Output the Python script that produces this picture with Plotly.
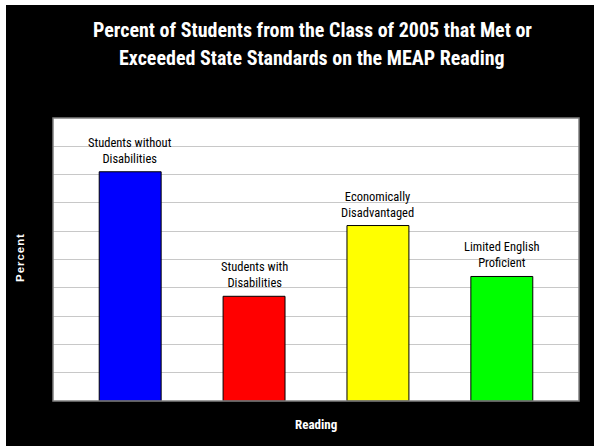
import plotly.graph_objects as go

categories = ["Students without Disabilities", "Students with Disabilities",
              "Economically Disadvantaged", "Limited English Proficient"]
bar_labels = ["Students without<br>Disabilities", "Students with<br>Disabilities",
              "Economically<br>Disadvantaged", "Limited English<br>Proficient"]
values = [81, 37, 62, 44]
colors = ["#0000ff", "#ff0000", "#ffff00", "#00ff00"]
y_ticks = list(range(0, 101, 10))
title_lines = ["Percent of Students from the Class of 2005 that Met or",
               "Exceeded State Standards on the MEAP Reading"]

NARROW = "Roboto Condensed, Liberation Sans Narrow, Arial Narrow, Liberation Sans, sans-serif"

fig = go.Figure()
fig.add_trace(go.Bar(
    x=categories, y=values, width=0.5,
    marker=dict(color=colors, line=dict(color="#000000", width=1)),
    hoverinfo="skip", showlegend=False,
))

for c, lab, v in zip(categories, bar_labels, values):
    fig.add_annotation(x=c, y=v, text=lab, showarrow=False, yanchor="bottom",
                       yshift=4, font=dict(family=NARROW, size=12.5, color="#000000"),
                       align="center")

W, H = 594, 446
L, R, T, B = 53, 15, 118, 45
pw, ph = W - L - R, H - T - B

def px_x(p):
    return (p - L) / pw

def px_y(p):
    return (H - B - p) / ph

# white strips at top and left edges
fig.add_shape(type="rect", xref="paper", yref="paper", x0=px_x(0), x1=px_x(594),
              y0=px_y(5), y1=px_y(0), fillcolor="white", line_width=0, layer="below")
fig.add_shape(type="rect", xref="paper", yref="paper", x0=px_x(0), x1=px_x(6),
              y0=px_y(446), y1=px_y(0), fillcolor="white", line_width=0, layer="below")
# plot area border
fig.add_shape(type="rect", xref="paper", yref="paper", x0=0, x1=1, y0=0, y1=1,
              line=dict(color="#808080", width=1.5), layer="above")

for line, cy in zip(title_lines, [29.5, 58]):
    fig.add_annotation(xref="paper", yref="paper", x=px_x(312), y=px_y(cy),
                       xanchor="center", yanchor="middle",
                       text=f"<b>{line}</b>", showarrow=False,
                       font=dict(family=NARROW, size=20, color="white"))

fig.add_annotation(xref="paper", yref="paper", x=px_x(316), y=px_y(424),
                   xanchor="center", yanchor="middle",
                   text="<b>Reading</b>", showarrow=False,
                   font=dict(family=NARROW, size=13, color="white"))
fig.add_annotation(xref="paper", yref="paper", x=px_x(20), y=px_y(258),
                   xanchor="center", yanchor="middle",
                   text="<b>P\u200ae\u200ar\u200ac\u200ae\u200an\u200at</b>", showarrow=False,
                   textangle=-90,
                   font=dict(family="Liberation Sans, Arial, sans-serif", size=11.5, color="white"))

fig.update_layout(
    width=W, height=H,
    margin=dict(l=L, r=R, t=T, b=B),
    paper_bgcolor="#000000", plot_bgcolor="#ffffff",
    xaxis=dict(range=[-0.623, 3.623], showticklabels=False, showgrid=False,
               zeroline=False, showline=False, ticks=""),
    yaxis=dict(range=[0, 100], tickvals=y_ticks, showticklabels=False,
               showgrid=True, gridcolor="#c8c8c8", gridwidth=1,
               zeroline=False, showline=False, ticks=""),
    bargap=0.5,
)

fig.write_html("out.html", config={"displayModeBar": False},
               post_script="document.body.style.margin='0';")
